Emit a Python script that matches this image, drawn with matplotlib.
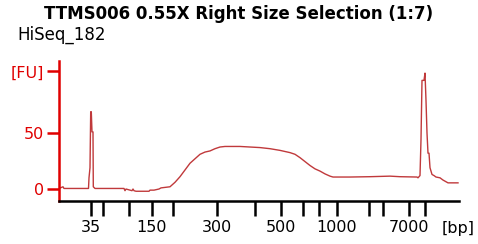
import matplotlib
matplotlib.use("Agg")
import matplotlib.pyplot as plt

# ladder sizes [bp] and their migration times [s]
ladder_bp = [35, 50, 100, 150, 200, 300, 400, 500, 600, 700, 1000, 2000, 3000, 7000, 10380]
ladder_t = [46.4, 48.8, 54.0, 58.6, 62.8, 71.6, 79.2, 84.4, 88.8, 92.0, 95.6, 102.0, 104.8, 110.0, 113.2]
shown = {35, 150, 300, 500, 1000, 7000}

# electropherogram trace: time [s], fluorescence [FU]  (rows of 10)
time_s = [40.0, 40.8, 41.0, 45.9, 46.0, 46.2, 46.34, 46.46, 46.6, 46.8,
          46.86, 47.2, 53.0, 53.2, 53.4, 54.6, 54.8, 55.0, 55.4, 58.0,
          58.2, 59.0, 60.0, 60.4, 62.2, 63.2, 64.2, 65.2, 66.2, 67.2,
          68.2, 69.2, 70.2, 71.2, 72.2, 73.2, 76.2, 78.2, 80.2, 82.2,
          84.2, 86.2, 87.2, 88.2, 89.2, 90.2, 91.2, 92.2, 93.2, 94.2,
          94.8, 98.2, 102.2, 106.2, 108.2, 111.6, 111.8, 112.2, 112.4, 112.6,
          113.0, 113.2, 113.4, 113.6, 113.8, 114.0, 114.2, 114.6, 115.0, 115.4,
          116.2, 116.8, 117.8, 119.8]
fu = [0.5, 2.0, 0.5, 0.5, 10.0, 19.0, 69.0, 69.0, 51.0, 51.0,
      2.0, 0.5, 0.5, -1.5, 0.0, -1.5, 0.0, -1.5, -2.0, -2.0,
      -1.0, -1.0, 0.0, 1.0, 2.0, 6.0, 11.0, 17.0, 23.0, 27.0,
      31.0, 33.0, 34.0, 36.0, 37.5, 38.0, 38.0, 37.5, 37.0, 36.0,
      34.5, 32.5, 31.0, 28.0, 24.5, 21.0, 18.0, 16.0, 13.5, 11.5,
      10.7, 10.7, 11.0, 11.5, 11.0, 10.7, 10.0, 12.0, 44.0, 97.0,
      97.0, 103.5, 79.0, 50.0, 32.0, 32.0, 19.0, 13.0, 12.0, 10.7,
      10.0, 8.0, 5.5, 5.5]

fig = plt.figure(figsize=(4.78, 2.44), dpi=100)
ax = fig.add_axes([59 / 478, 43 / 244, 400 / 478, 140 / 244])

ax.plot(time_s, fu, color="#c0393b", lw=1.0)

ax.set_xlim(40, 120)
ax.set_ylim(-10.7, 114.3)

red = "#e00000"
for s in ["top", "right"]:
    ax.spines[s].set_visible(False)
ax.spines["left"].set_color(red)
ax.spines["left"].set_linewidth(1.8)
ax.spines["bottom"].set_color("black")
ax.spines["bottom"].set_linewidth(1.8)

ax.set_yticks([0, 50, 105])
ax.set_yticklabels(["0", "50", "[FU]"])
ax.tick_params(axis="y", colors=red, length=9, width=1.8, labelsize=11.5, pad=2)

ax.set_xticks(ladder_t)
ax.set_xticklabels([str(b) if b in shown else "" for b in ladder_bp])
ax.tick_params(axis="x", colors="black", length=11, width=1.8, labelsize=11.5, pad=3)

fig.text(458 / 478, 16 / 244, "[bp]", fontsize=11.5, ha="center", va="center")
fig.text(0.5, 1 - 14 / 244, "TTMS006 0.55X Right Size Selection (1:7)",
         fontsize=12, fontweight="bold", ha="center", va="center")
fig.text(17 / 478, 1 - 35 / 244, "HiSeq_182", fontsize=12, ha="left", va="center")

fig.savefig("out.png", dpi=100)
